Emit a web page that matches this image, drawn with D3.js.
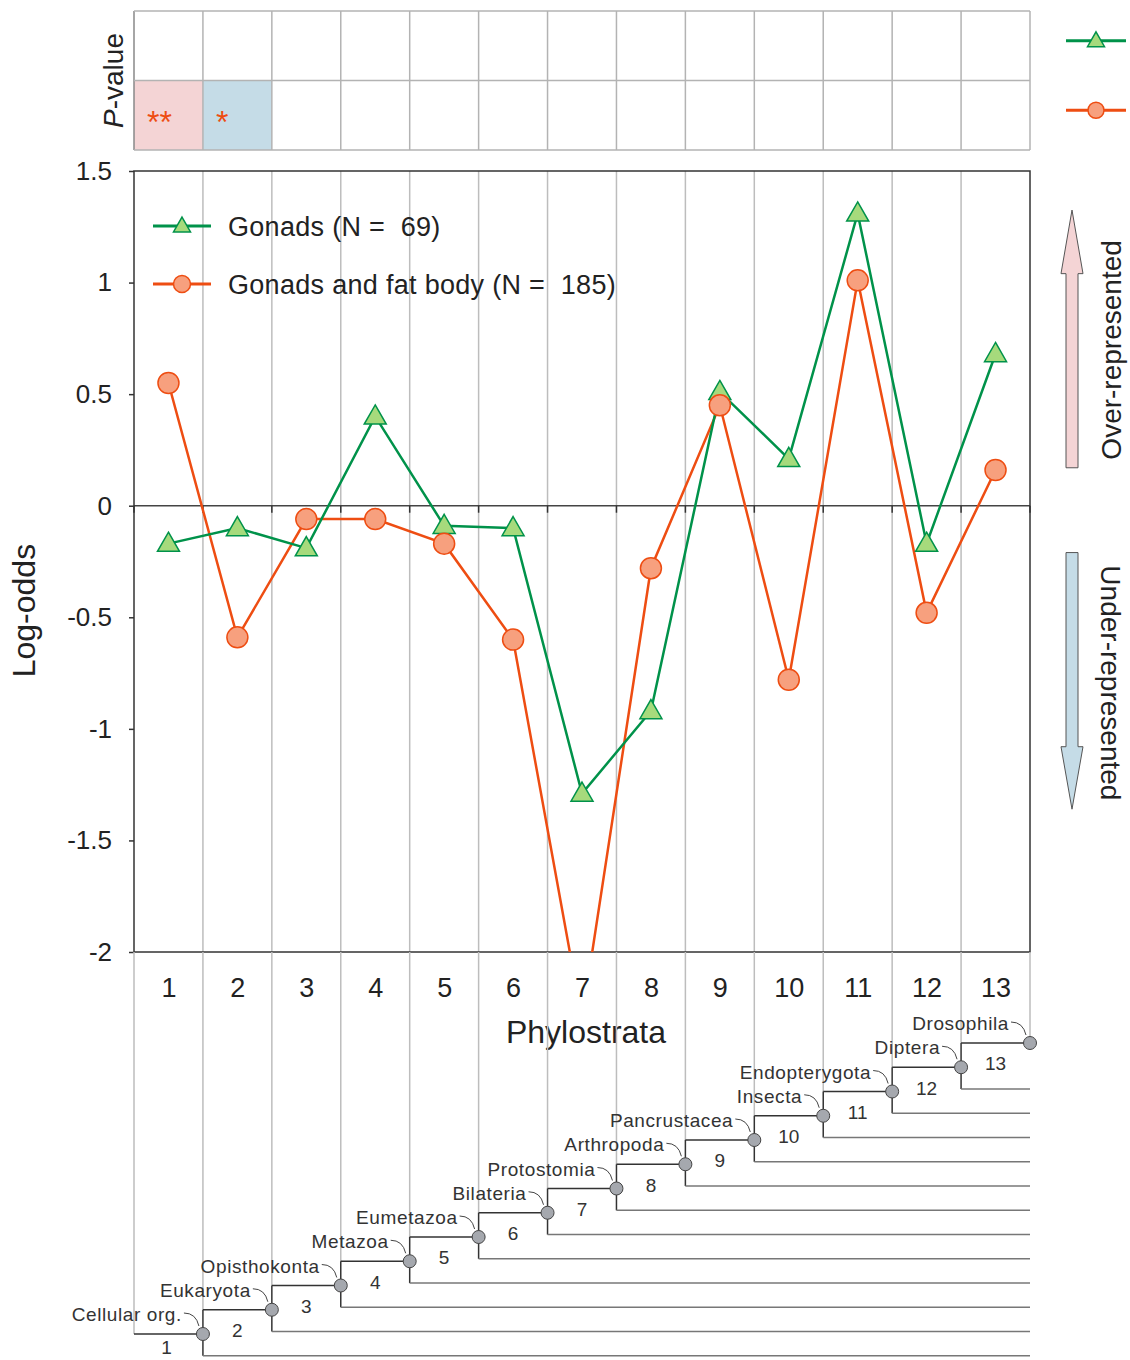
<!DOCTYPE html>
<html><head><meta charset="utf-8">
<script src="https://cdn.jsdelivr.net/npm/d3@7"></script>
<style>
body{margin:0;background:#fff;}
svg{display:block;font-family:Arial,"Liberation Sans",sans-serif;}
text{white-space:pre;}
</style></head>
<body>
<script>
// ---- data ----
const phylostrata = [1,2,3,4,5,6,7,8,9,10,11,12,13];
const gonads = [-0.17,-0.10,-0.19,0.40,-0.09,-0.10,-1.29,-0.92,0.51,0.21,1.31,-0.17,0.68];
const gonadsFat = [0.55,-0.59,-0.06,-0.06,-0.17,-0.60,-2.30,-0.28,0.45,-0.78,1.01,-0.48,0.16];
const gonadsSig = ["","","","","","","","","","","","",""];
const gonadsFatSig = ["**","*","","","","","","","","","","",""];
const yTicks = [1.5,1,0.5,0,-0.5,-1,-1.5,-2];
const yTickLabels = ["1.5","1","0.5","0","-0.5","-1","-1.5","-2"];
const seriesNames = ["Gonads (N =  69)","Gonads and fat body (N =  185)"];
const cladeNames = ["Cellular org.","Eukaryota","Opisthokonta","Metazoa","Eumetazoa","Bilateria","Protostomia","Arthropoda","Pancrustacea","Insecta","Endopterygota","Diptera","Drosophila"];

const GREEN="#00924a", GREEN_FILL="#a6da7c", ORANGE="#ee4d12", ORANGE_FILL="#f7a07e";
const PINK="#f4d4d5", BLUE="#c5dce7";

const W=1130,H=1360;
const svg=d3.select("body").append("svg").attr("width",W).attr("height",H);

const L=134,R=1030,T=171,B=952;
const x=d3.scaleLinear().domain([0.5,13.5]).range([L,R]);
const y=d3.scaleLinear().domain([-2,1.5]).range([B,T]);
const bounds=d3.range(0.5,14,1); // 14 boundaries

// ---- p-value panel ----
const PT=11,PB=150;
const prow=d3.scaleBand().domain([0,1]).range([PT,PB]);
const pData=[{vals:gonads,sig:gonadsSig},{vals:gonadsFat,sig:gonadsFatSig}];
pData.forEach((s,ri)=>{
  phylostrata.forEach((p,i)=>{
    if(s.sig[i]){
      svg.append("rect").attr("x",x(p-0.5)).attr("y",prow(ri)).attr("width",x(p+0.5)-x(p-0.5)).attr("height",prow.bandwidth())
        .attr("fill",s.vals[i]>0?PINK:BLUE);
      svg.append("text").attr("x",x(p-0.5)+13).attr("y",prow(ri)+prow.bandwidth()/2+18)
        .attr("font-size",32).attr("fill",ORANGE).attr("letter-spacing",0).text(s.sig[i]);
    }
  });
});
// panel grid
svg.append("g").selectAll("line").data(bounds).join("line")
  .attr("x1",d=>x(d)).attr("x2",d=>x(d)).attr("y1",PT).attr("y2",PB)
  .attr("stroke",d=>d===0.5?"#888":"#b3b3b3").attr("stroke-width",1.5);
[PT,PT+prow.bandwidth(),PB].forEach(yy=>{
  svg.append("line").attr("x1",L).attr("x2",R).attr("y1",yy).attr("y2",yy).attr("stroke","#b3b3b3").attr("stroke-width",1.5);
});
svg.append("text").attr("transform",`translate(123,${(PT+PB)/2}) rotate(-90)`).attr("text-anchor","middle")
  .attr("font-size",28).attr("fill","#222")
  .call(t=>{t.append("tspan").attr("font-style","italic").text("P");t.append("tspan").text("-value");});

// right-side p-value legend
function triangle(g,cx,cy,s){
  const h=s*0.87;
  g.append("path").attr("d",`M${cx},${cy-h*0.6}L${cx+s/2},${cy+h*0.4}L${cx-s/2},${cy+h*0.4}Z`)
   .attr("fill",GREEN_FILL).attr("stroke",GREEN).attr("stroke-width",1.5);
}
function circle(g,cx,cy,r){
  g.append("circle").attr("cx",cx).attr("cy",cy).attr("r",r).attr("fill",ORANGE_FILL).attr("stroke",ORANGE).attr("stroke-width",1.5);
}
const rl=svg.append("g");
[0,1].forEach(ri=>{
  const cy=prow(ri)+prow.bandwidth()/2-5;
  rl.append("line").attr("x1",1066).attr("x2",1126).attr("y1",cy).attr("y2",cy).attr("stroke",ri?ORANGE:GREEN).attr("stroke-width",3);
  if(ri) circle(rl,1096,cy,8); else triangle(rl,1096,cy,17);
});

// ---- main plot ----
svg.append("g").selectAll("line").data(bounds.slice(1,-1)).join("line")
  .attr("x1",d=>x(d)).attr("x2",d=>x(d)).attr("y1",T).attr("y2",B)
  .attr("stroke","#bdbdbd").attr("stroke-width",1.5);
// zero line with ticks
svg.append("line").attr("x1",L).attr("x2",R).attr("y1",y(0)).attr("y2",y(0)).attr("stroke","#444").attr("stroke-width",1.5);
svg.append("g").selectAll("line").data(bounds).join("line")
  .attr("x1",d=>x(d)).attr("x2",d=>x(d)).attr("y1",y(0)).attr("y2",y(0)+7).attr("stroke","#333").attr("stroke-width",1.5);
// frame
svg.append("rect").attr("x",L).attr("y",T).attr("width",R-L).attr("height",B-T).attr("fill","none").attr("stroke","#333").attr("stroke-width",1.5);
// y axis
const yAxis=d3.axisLeft(y).tickValues(yTicks).tickFormat((d,i)=>yTickLabels[i]).tickSize(5).tickPadding(17);
const ya=svg.append("g").attr("transform",`translate(${L},0)`).call(yAxis);
ya.select(".domain").remove();
ya.selectAll("line").attr("stroke","#333").attr("stroke-width",1.5);
ya.selectAll("text").attr("font-size",26).attr("fill","#222").attr("font-family","Arial,'Liberation Sans',sans-serif");
svg.append("text").attr("transform",`translate(35,${y(-0.47)}) rotate(-90)`).attr("text-anchor","middle")
  .attr("font-size",32).attr("fill","#222").text("Log-odds");
// x axis labels
const xAxis=d3.axisBottom(x).tickValues(phylostrata).tickSize(0).tickPadding(26);
const xa=svg.append("g").attr("transform",`translate(0,${B})`).call(xAxis);
xa.select(".domain").remove();
xa.selectAll("text").attr("font-size",27).attr("fill","#222").attr("font-family","Arial,'Liberation Sans',sans-serif");
svg.append("text").attr("x",586).attr("y",1043).attr("text-anchor","middle").attr("font-size",32).attr("fill","#222").text("Phylostrata");

// clip
svg.append("clipPath").attr("id","clip").append("rect").attr("x",L).attr("y",T).attr("width",R-L).attr("height",B-T);
const line=d3.line().x((d,i)=>x(phylostrata[i])).y(d=>y(d));
const pg=svg.append("g").attr("clip-path","url(#clip)");
pg.append("path").datum(gonadsFat).attr("d",line).attr("fill","none").attr("stroke",ORANGE).attr("stroke-width",2.5);
pg.append("path").datum(gonads).attr("d",line).attr("fill","none").attr("stroke",GREEN).attr("stroke-width",2.5);
gonads.forEach((v,i)=>{ if(v>=-2&&v<=1.5) triangle(pg,x(phylostrata[i]),y(v),22); });
gonadsFat.forEach((v,i)=>{ if(v>=-2&&v<=1.5) circle(pg,x(phylostrata[i]),y(v),10.5); });
// legend
const lg=svg.append("g");
[0,1].forEach(i=>{
  const ly=226+i*58;
  lg.append("line").attr("x1",153).attr("x2",211).attr("y1",ly).attr("y2",ly).attr("stroke",i?ORANGE:GREEN).attr("stroke-width",3);
  if(i) circle(lg,182,ly,8.5); else triangle(lg,182,ly,17);
  lg.append("text").attr("x",228).attr("y",ly+10).attr("font-size",27).attr("letter-spacing",0.3).attr("fill","#222").attr("xml:space","preserve").text(seriesNames[i]);
});

// arrows on right
function arrow(top,bottom,headLen,up,fill){
  const cx=1072,sw=6,hw=11;
  let d;
  if(up){
    d=`M${cx},${top}L${cx+hw},${top+headLen}L${cx+sw},${top+headLen}L${cx+sw},${bottom}L${cx-sw},${bottom}L${cx-sw},${top+headLen}L${cx-hw},${top+headLen}Z`;
  } else {
    d=`M${cx},${bottom}L${cx+hw},${bottom-headLen}L${cx+sw},${bottom-headLen}L${cx+sw},${top}L${cx-sw},${top}L${cx-sw},${bottom-headLen}L${cx-hw},${bottom-headLen}Z`;
  }
  svg.append("path").attr("d",d).attr("fill",fill).attr("stroke","#555").attr("stroke-width",1);
}
arrow(y(1.325),y(0.17),y(1.04)-y(1.325),true,PINK);
arrow(y(-0.21),y(-1.36),y(-1.36)-y(-1.08),false,BLUE);
svg.append("text").attr("transform",`translate(1121,${(y(1.325)+y(0.17))/2+11}) rotate(-90)`).attr("text-anchor","middle").attr("font-size",28).attr("fill","#222").text("Over-represented");
svg.append("text").attr("transform",`translate(1101,${(y(-0.21)+y(-1.36))/2+2}) rotate(90)`).attr("text-anchor","middle").attr("font-size",28).attr("fill","#222").text("Under-represented");

// ---- tree ----
const ty=d3.scaleLinear().domain([1,13]).range([1334,1043]);
const step=ty(1)-ty(2);
const tg=svg.append("g");
// gridlines below plot
bounds.forEach((b,k)=>{
  const yEnd = k===0?ty(1):(k===13?ty(13):ty(k+1));
  tg.append("line").attr("x1",x(b)).attr("x2",x(b)).attr("y1",B).attr("y2",yEnd).attr("stroke","#bdbdbd").attr("stroke-width",1.5);
});
// root
tg.append("line").attr("x1",x(0.5)).attr("x2",x(1.5)).attr("y1",ty(1)).attr("y2",ty(1)).attr("stroke","#333").attr("stroke-width",1.5);
for(let k=1;k<=12;k++){
  const bx=x(k+0.5), yk=ty(k), yn=ty(k+1), low=yk+step*0.9;
  tg.append("line").attr("x1",bx).attr("x2",x(k+1.5)).attr("y1",yn).attr("y2",yn).attr("stroke","#333").attr("stroke-width",1.5);
  tg.append("line").attr("x1",bx).attr("x2",bx).attr("y1",yn).attr("y2",low).attr("stroke","#333").attr("stroke-width",1.5);
  tg.append("line").attr("x1",bx).attr("x2",R).attr("y1",low).attr("y2",low).attr("stroke","#777").attr("stroke-width",1.5);
}
// numbers
phylostrata.forEach(k=>{
  const yy = k===1? ty(1)+step-4 : ty(k-1)+3;
  tg.append("text").attr("x",x(k)+(k===1?-2:0)).attr("y",yy).attr("text-anchor","middle").attr("font-size",19).attr("fill","#333").text(k);
});
// nodes and labels
phylostrata.forEach((k,i)=>{
  const nx=x(k+0.5), ny=ty(k);
  tg.append("path").attr("d",`M ${nx-19} ${ny-21} Q ${nx-7} ${ny-21} ${nx-4} ${ny-8}`).attr("fill","none").attr("stroke","#444").attr("stroke-width",1);
  tg.append("text").attr("x",nx-21).attr("y",ny-13).attr("text-anchor","end").attr("font-size",19).attr("letter-spacing",0.6).attr("fill","#333").text(cladeNames[i]);
  tg.append("circle").attr("cx",nx).attr("cy",ny).attr("r",6.5).attr("fill","#a5a8ae").attr("stroke","#444").attr("stroke-width",1);
});
</script>
</body></html>
